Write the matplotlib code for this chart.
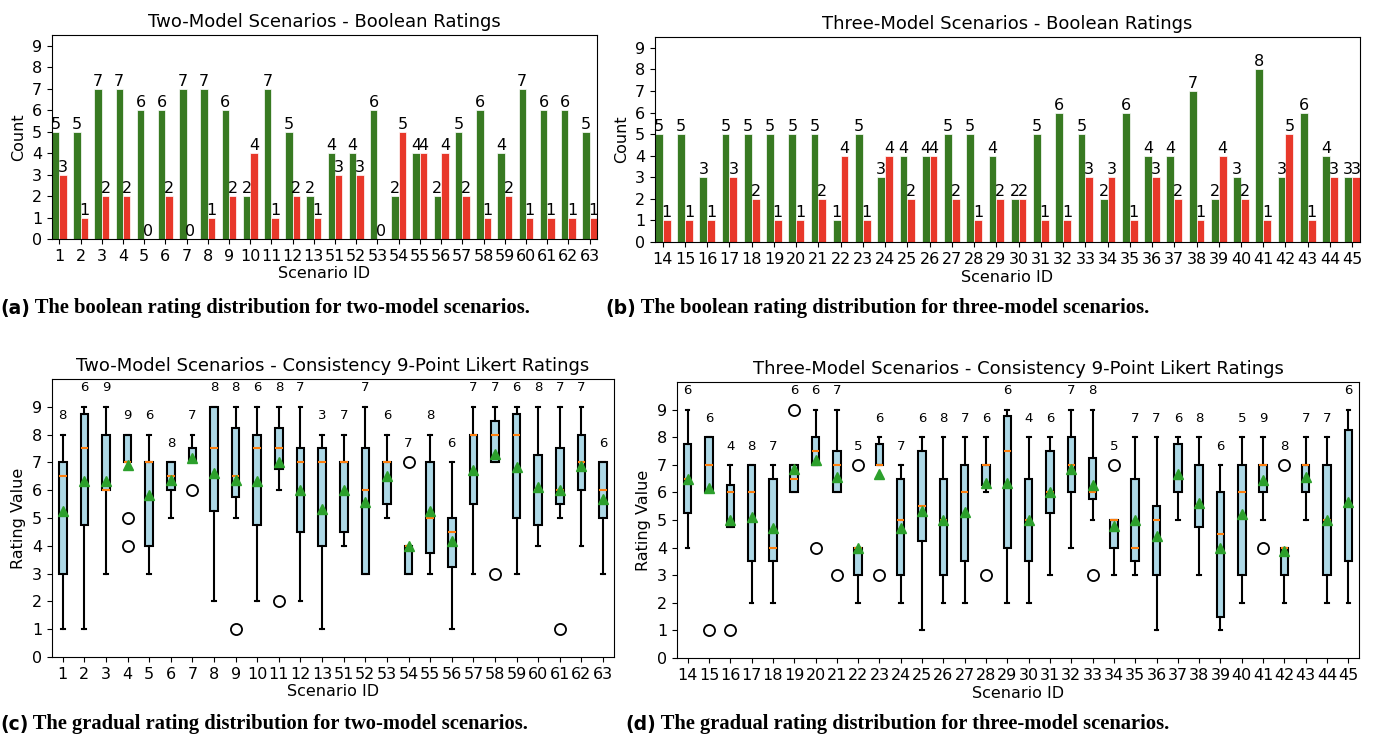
import matplotlib
matplotlib.use("Agg")
import matplotlib.pyplot as plt
from matplotlib.text import Annotation

# --- boolean ratings (bar charts) ---
two_ids = [1, 2, 3, 4, 5, 6, 7, 8, 9, 10, 11, 12, 13, 51, 52, 53, 54, 55, 56, 57, 58, 59, 60, 61, 62, 63]
two_true = [5, 5, 7, 7, 6, 6, 7, 7, 6, 2, 7, 5, 2, 4, 4, 6, 2, 4, 2, 5, 6, 4, 7, 6, 6, 5]
two_false = [3, 1, 2, 2, 0, 2, 0, 1, 2, 4, 1, 2, 1, 3, 3, 0, 5, 4, 4, 2, 1, 2, 1, 1, 1, 1]

three_ids = list(range(14, 46))
three_true = [5, 5, 3, 5, 5, 5, 5, 5, 1, 5, 3, 4, 4, 5, 5, 4, 2, 5, 6, 5, 2, 6, 4, 4, 7, 2, 3, 8, 3, 6, 4, 3]
three_false = [1, 1, 1, 3, 2, 1, 1, 2, 4, 1, 4, 2, 4, 2, 1, 2, 2, 1, 1, 3, 3, 1, 3, 2, 1, 4, 2, 1, 5, 1, 3, 3]

# --- gradual ratings (box stats) ---
two_q1 = [3, 4.75, 6, 7, 4, 6, 7, 5.25, 5.75, 4.75, 6.75, 4.5, 4, 4.5, 3, 5.5, 3, 3.75, 3.25, 5.5, 7, 5, 4.75, 5.5, 6, 5]
two_med = [6.5, 7.5, 6, 7, 7, 6.5, 7, 7.5, 6.5, 7.5, 7.5, 7, 7, 7, 6, 7, 4, 5, 4.5, 8, 8, 8, 6, 6, 7, 6]
two_q3 = [7, 8.75, 8, 8, 7, 7, 7.5, 9, 8.25, 8, 8.25, 7.5, 7.5, 7, 7.5, 7, 4, 7, 5, 8, 8.5, 8.75, 7.25, 7.5, 8, 7]
two_lo = [1, 1, 3, 7, 3, 5, 7, 2, 5, 2, 6, 2, 1, 4, 3, 5, 3, 3, 1, 3, 7, 3, 4, 5, 4, 3]
two_hi = [8, 9, 9, 8, 8, 7, 8, 9, 9, 9, 9, 9, 8, 8, 9, 8, 4, 8, 7, 9, 9, 9, 9, 9, 9, 7]
two_mean = [5.25, 6.33, 6.33, 6.89, 5.83, 6.38, 7.14, 6.63, 6.38, 6.33, 7.0, 6.0, 5.33, 6.0, 5.57, 6.5,
            4.0, 5.25, 4.17, 6.71, 7.29, 6.83, 6.13, 6.0, 6.86, 5.67]
two_fliers = {4: [5, 4], 7: [6], 9: [1], 11: [2], 54: [7], 58: [3], 61: [1]}

three_q1 = [5.25, 6, 4.75, 3.5, 3.5, 6, 7, 6, 3, 7, 3, 4.25, 3, 3.5, 6.25, 4, 3.5, 5.25, 6, 5.75, 4, 3.5, 3, 6, 4.75, 1.5, 3, 6, 3, 6, 3, 3.5]
three_med = [6.5, 7, 6, 6, 4, 6.5, 7.5, 7, 4, 7, 5, 5.5, 5, 6, 7, 7.5, 5, 6, 7, 6, 5, 4, 5, 6.5, 5.5, 4.5, 6, 7, 4, 7, 5, 5.5]
three_q3 = [7.75, 8, 6.25, 7, 6.5, 7, 8, 7.5, 4, 7.75, 6.5, 7.5, 6.5, 7, 7, 8.75, 6.5, 7.5, 8, 7.25, 5, 6.5, 5.5, 7.75, 7, 6, 7, 7, 4, 7, 7, 8.25]
three_lo = [4, 6, 4.75, 2, 2, 6, 7, 6, 2, 7, 2, 1, 2, 2, 6, 2, 2, 3, 4, 5, 3, 3, 1, 5, 3, 1, 2, 5, 2, 5, 2, 2]
three_hi = [9, 8, 7, 7, 7, 7, 9, 9, 4, 8, 7, 8, 8, 8, 8, 9, 8, 8, 9, 9, 5, 8, 8, 8, 8, 7, 8, 8, 4, 8, 8, 9]
three_mean = [6.5, 6.17, 5.0, 5.1, 4.71, 6.83, 7.17, 6.57, 4.0, 6.67, 4.71, 5.33, 5.0, 5.29, 6.33, 6.33,
              5.0, 6.0, 6.86, 6.25, 4.8, 5.0, 4.43, 6.67, 5.63, 4.0, 5.2, 6.44, 3.88, 6.57, 5.0, 5.67]
three_fliers = {15: [1], 16: [1], 19: [9], 20: [4], 21: [3], 22: [7], 23: [3], 28: [3], 33: [3], 34: [7], 41: [4], 42: [7]}

GREEN = "#387a22"
RED = "#e8382a"

fig = plt.figure(figsize=(13.74, 7.39), dpi=100)
ax_a = fig.add_axes([0.0378, 0.6766, 0.3967, 0.2760])
ax_b = fig.add_axes([0.4767, 0.6725, 0.5131, 0.2774])
ax_c = fig.add_axes([0.0378, 0.1110, 0.4090, 0.3762])
ax_d = fig.add_axes([0.4927, 0.1096, 0.4964, 0.3735])


def bar_panel(ax, ids, good, bad, title):
    w = 0.35
    x = list(range(len(ids)))
    b1 = ax.bar([i - w / 2 for i in x], good, w, color=GREEN, edgecolor="white", linewidth=0.5)
    b2 = ax.bar([i + w / 2 for i in x], bad, w, color=RED, edgecolor="white", linewidth=0.5)
    for bars in (b1, b2):
        for r in bars:
            h = r.get_height()
            ax.text(r.get_x() + r.get_width() / 2, h, str(int(h)), ha="center", va="bottom", fontsize=11.5)
    ax.set_xticks(x)
    ax.set_xticklabels([str(i) for i in ids], fontsize=11.5)
    ax.set_xlim(-w, len(ids) - 1 + w)
    ax.set_ylim(0, 9.5)
    ax.set_yticks(range(10))
    ax.tick_params(axis="y", labelsize=11.5)
    ax.set_ylabel("Count", fontsize=11.5)
    ax.set_xlabel("Scenario ID", fontsize=11.5, labelpad=2)
    ax.set_title(title, fontsize=13)


def box_panel(ax, ids, q1, med, q3, lo, hi, mean, fliers, counts, title):
    stats = []
    for k, sid in enumerate(ids):
        stats.append(dict(q1=q1[k], med=med[k], q3=q3[k], whislo=lo[k], whishi=hi[k],
                          mean=mean[k], fliers=fliers.get(sid, [])))
    ax.bxp(stats, showmeans=True, patch_artist=True, widths=0.35,
           boxprops=dict(facecolor="lightblue", edgecolor="black", linewidth=1.5),
           whiskerprops=dict(linewidth=1.5), capprops=dict(linewidth=1.5),
           medianprops=dict(color="C1", linewidth=1.5),
           meanprops=dict(marker="^", markerfacecolor="C2", markeredgecolor="C2", markersize=7.5),
           flierprops=dict(marker="o", markerfacecolor="none", markeredgecolor="black",
                           markersize=8, markeredgewidth=1.3))
    for k, sid in enumerate(ids):
        top = max([hi[k]] + fliers.get(sid, []))
        ax.text(k + 1, top + 0.68, str(counts[k]), ha="center", va="center", fontsize=9.5)
    ax.set_xticks(range(1, len(ids) + 1))
    ax.set_xticklabels([str(i) for i in ids], fontsize=11.5)
    ax.set_xlim(0.5, len(ids) + 0.5)
    ax.set_ylim(0, 10)
    ax.set_yticks(range(10))
    ax.tick_params(axis="y", labelsize=11.5)
    ax.set_ylabel("Rating Value", fontsize=11.5)
    ax.set_xlabel("Scenario ID", fontsize=11.5, labelpad=2)
    ax.set_title(title, fontsize=13)


bar_panel(ax_a, two_ids, two_true, two_false, "Two-Model Scenarios - Boolean Ratings")
bar_panel(ax_b, three_ids, three_true, three_false, "Three-Model Scenarios - Boolean Ratings")

two_n = [g + b for g, b in zip(two_true, two_false)]
three_n = [g + b for g, b in zip(three_true, three_false)]
box_panel(ax_c, two_ids, two_q1, two_med, two_q3, two_lo, two_hi, two_mean, two_fliers, two_n,
          "Two-Model Scenarios - Consistency 9-Point Likert Ratings")
box_panel(ax_d, three_ids, three_q1, three_med, three_q3, three_lo, three_hi, three_mean, three_fliers, three_n,
          "Three-Model Scenarios - Consistency 9-Point Likert Ratings")

# captions: sans "(x)" label followed by serif bold text
captions = [
    (0.0, 1 - 318 / 739, "(a)", " The boolean rating distribution for two-model scenarios."),
    (605 / 1374, 1 - 318 / 739, "(b)", " The boolean rating distribution for three-model scenarios."),
    (0.0, 1 - 734 / 739, "(c)", " The gradual rating distribution for two-model scenarios."),
    (625 / 1374, 1 - 734 / 739, "(d)", " The gradual rating distribution for three-model scenarios."),
]
for cx, cy, lab, txt in captions:
    t1 = fig.text(cx, cy, lab, fontsize=13.5, fontweight="bold", family="DejaVu Sans", va="bottom")
    fig.add_artist(Annotation(txt, xy=(1, 0), xycoords=t1, va="bottom", ha="left",
                              fontsize=14.8, fontweight="bold", family="Liberation Serif"))

fig.savefig("out.png", dpi=100)
